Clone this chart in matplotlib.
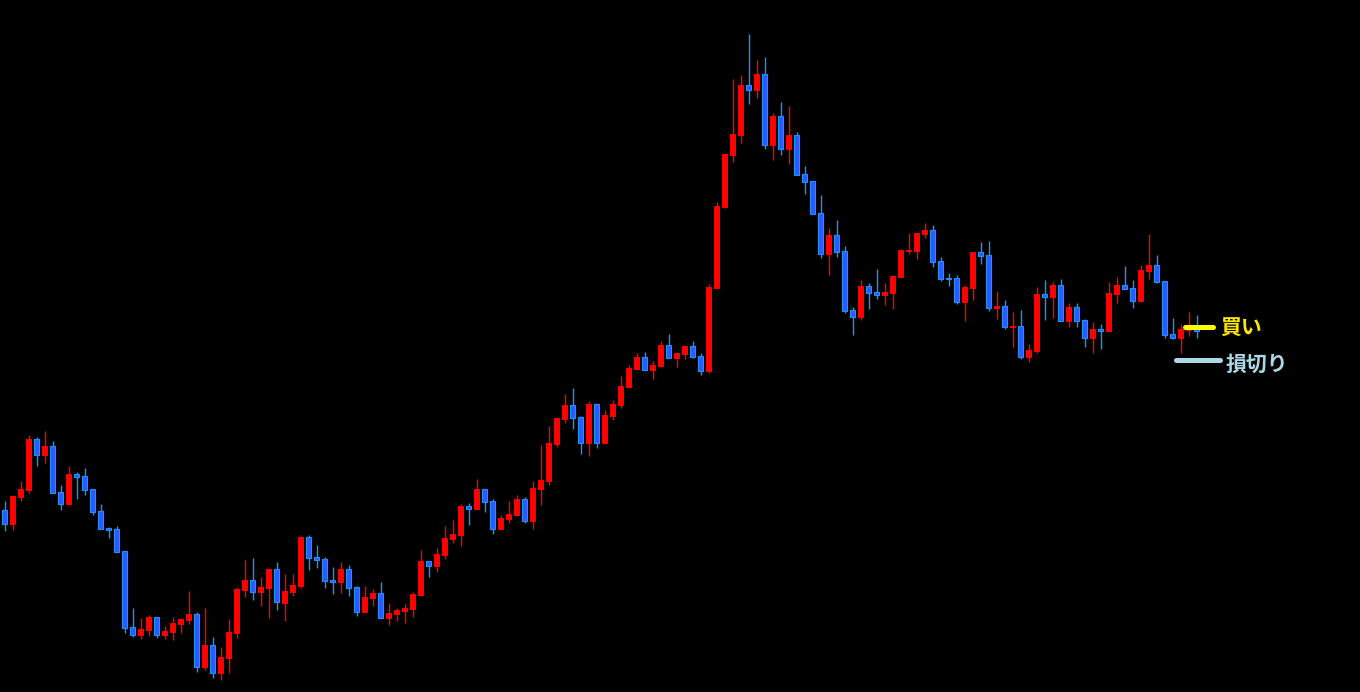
import matplotlib
matplotlib.use("Agg")
import matplotlib.pyplot as plt
from matplotlib.patches import Rectangle

plt.rcParams['font.family'] = ['Noto Sans CJK JP', 'DejaVu Sans']

# OHLC (arbitrary price units, 1 unit ~ 1 px)
opens = [182, 168, 195, 202, 253, 237, 246, 200, 188, 218, 216, 203, 181, 164, 163, 141, 65, 57, 62, 75,
         57, 60, 68, 72, 78, 25, 47, 19, 34, 59, 102, 112, 100, 104, 123, 89, 100, 106, 155, 135,
         133, 112, 110, 123, 105, 80, 94, 99, 74, 78, 81, 83, 97, 131, 126, 137, 153, 157, 186, 183,
         203, 191, 163, 173, 177, 193, 171, 203, 211, 248, 273, 287, 275, 249, 288, 249, 276, 287, 305, 323,
         335, 322, 326, 347, 334, 338, 346, 336, 321, 404, 485, 537, 557, 607, 602, 618, 547, 576, 543, 557,
         518, 511, 479, 438, 457, 441, 382, 375, 406, 400, 397, 399, 415, 441, 441, 458, 462, 431, 414, 414,
         390, 404, 440, 437, 384, 386, 365, 366, 335, 341, 398, 395, 407, 371, 385, 372, 354, 363, 361, 398,
         407, 404, 391, 421, 427, 411, 358, 354, 362, 363]
highs = [191, 196, 211, 257, 255, 261, 251, 207, 226, 220, 224, 203, 188, 165, 166, 141, 84, 74, 77, 75,
         66, 75, 74, 101, 80, 84, 55, 45, 73, 105, 132, 134, 115, 123, 130, 118, 118, 156, 157, 147,
         135, 125, 130, 127, 106, 106, 103, 110, 89, 84, 88, 100, 142, 131, 144, 166, 172, 188, 189, 213,
         203, 193, 177, 191, 197, 195, 211, 247, 266, 274, 298, 304, 276, 291, 288, 282, 292, 316, 327, 339,
         340, 331, 351, 358, 340, 346, 351, 339, 408, 490, 538, 613, 617, 658, 632, 635, 579, 590, 586, 560,
         526, 511, 497, 464, 472, 446, 385, 412, 409, 423, 409, 417, 443, 459, 459, 469, 467, 435, 419, 417,
         407, 440, 450, 451, 401, 392, 380, 382, 348, 405, 412, 410, 413, 389, 389, 373, 370, 368, 410, 415,
         426, 412, 427, 458, 437, 411, 374, 368, 380, 377]
lows = [161, 162, 191, 199, 226, 229, 199, 182, 187, 193, 197, 177, 163, 154, 140, 59, 55, 53, 56, 54,
        53, 52, 59, 68, 20, 22, 14, 12, 19, 54, 95, 92, 86, 74, 82, 71, 96, 104, 122, 124,
        104, 98, 99, 96, 76, 80, 86, 74, 67, 71, 69, 75, 97, 115, 120, 133, 149, 146, 167, 183,
        180, 158, 162, 169, 177, 169, 163, 187, 207, 245, 269, 263, 238, 236, 244, 248, 272, 284, 305, 322,
        322, 313, 325, 334, 325, 333, 334, 317, 319, 404, 484, 530, 549, 588, 594, 543, 532, 537, 528, 517,
        498, 478, 434, 417, 435, 379, 357, 372, 383, 393, 387, 383, 415, 438, 433, 454, 425, 411, 406, 388,
        371, 392, 428, 381, 373, 363, 345, 333, 330, 339, 372, 374, 371, 365, 365, 345, 339, 343, 361, 389,
        403, 384, 390, 413, 409, 354, 353, 339, 356, 354]
closes = [168, 196, 203, 253, 237, 246, 199, 188, 218, 215, 202, 180, 163, 162, 140, 64, 57, 63, 75, 57,
          61, 69, 73, 78, 25, 47, 19, 35, 60, 103, 112, 100, 105, 123, 90, 101, 107, 155, 134, 132,
          111, 110, 123, 104, 80, 95, 99, 74, 79, 82, 84, 98, 131, 126, 138, 154, 158, 186, 183, 203,
          190, 163, 174, 178, 193, 171, 204, 212, 249, 274, 287, 274, 249, 288, 249, 277, 288, 306, 324, 335,
          322, 327, 347, 334, 339, 346, 335, 321, 405, 486, 538, 558, 607, 602, 618, 547, 576, 543, 557, 517,
          510, 478, 438, 457, 440, 381, 375, 406, 399, 397, 400, 416, 442, 442, 459, 462, 430, 413, 413, 390,
          405, 440, 436, 384, 386, 365, 366, 335, 342, 398, 395, 407, 371, 385, 371, 354, 363, 361, 399, 407,
          403, 391, 422, 427, 410, 357, 354, 363, 365, 361]

buy_level = 365
stop_level = 332
buy_label = "買い"
stop_label = "損切り"

UP = "#FF0000"
DOWN_FILL = "#2B5BFF"
DOWN_EDGE = "#1E90FF"
BUY_COLOR = "#FFE600"
STOP_COLOR = "#ADD8E6"

fig = plt.figure(figsize=(13.6, 6.92), dpi=100)
fig.set_facecolor("black")
ax = fig.add_axes([0, 0, 1, 1])
ax.set_facecolor("black")
ax.axis("off")

w = 0.56
for i, (o, h, l, c) in enumerate(zip(opens, highs, lows, closes)):
    up = c > o
    wick = UP if up else DOWN_EDGE
    ax.vlines(i, l, h, color=wick, linewidth=1.0, zorder=1)
    bottom = min(o, c)
    height = max(abs(c - o), 1.2)
    if up:
        ax.add_patch(Rectangle((i - w / 2, bottom), w, height, facecolor=UP,
                               edgecolor=UP, linewidth=0.7, zorder=2))
    else:
        ax.add_patch(Rectangle((i - w / 2, bottom), w, height, facecolor=DOWN_FILL,
                               edgecolor=DOWN_EDGE, linewidth=0.8, zorder=2))

# entry / stop markers
ax.plot([147.5, 151.1], [buy_level, buy_level], color="#FFFF00", linewidth=3.6,
        solid_capstyle="round", zorder=3)
ax.plot([146.4, 151.9], [stop_level, stop_level], color=STOP_COLOR, linewidth=3.6,
        solid_capstyle="round", zorder=3)
ax.text(152.0, buy_level - 1, buy_label, color=BUY_COLOR, fontsize=15,
        fontweight="bold", ha="left", va="center")
ax.text(152.6, stop_level - 4, stop_label, color=STOP_COLOR, fontsize=15,
        fontweight="bold", ha="left", va="center")

ax.set_xlim(-4.5 / 8, 1355.5 / 8)
ax.set_ylim(0, 692)

fig.savefig("out.png", dpi=100, facecolor="black")
